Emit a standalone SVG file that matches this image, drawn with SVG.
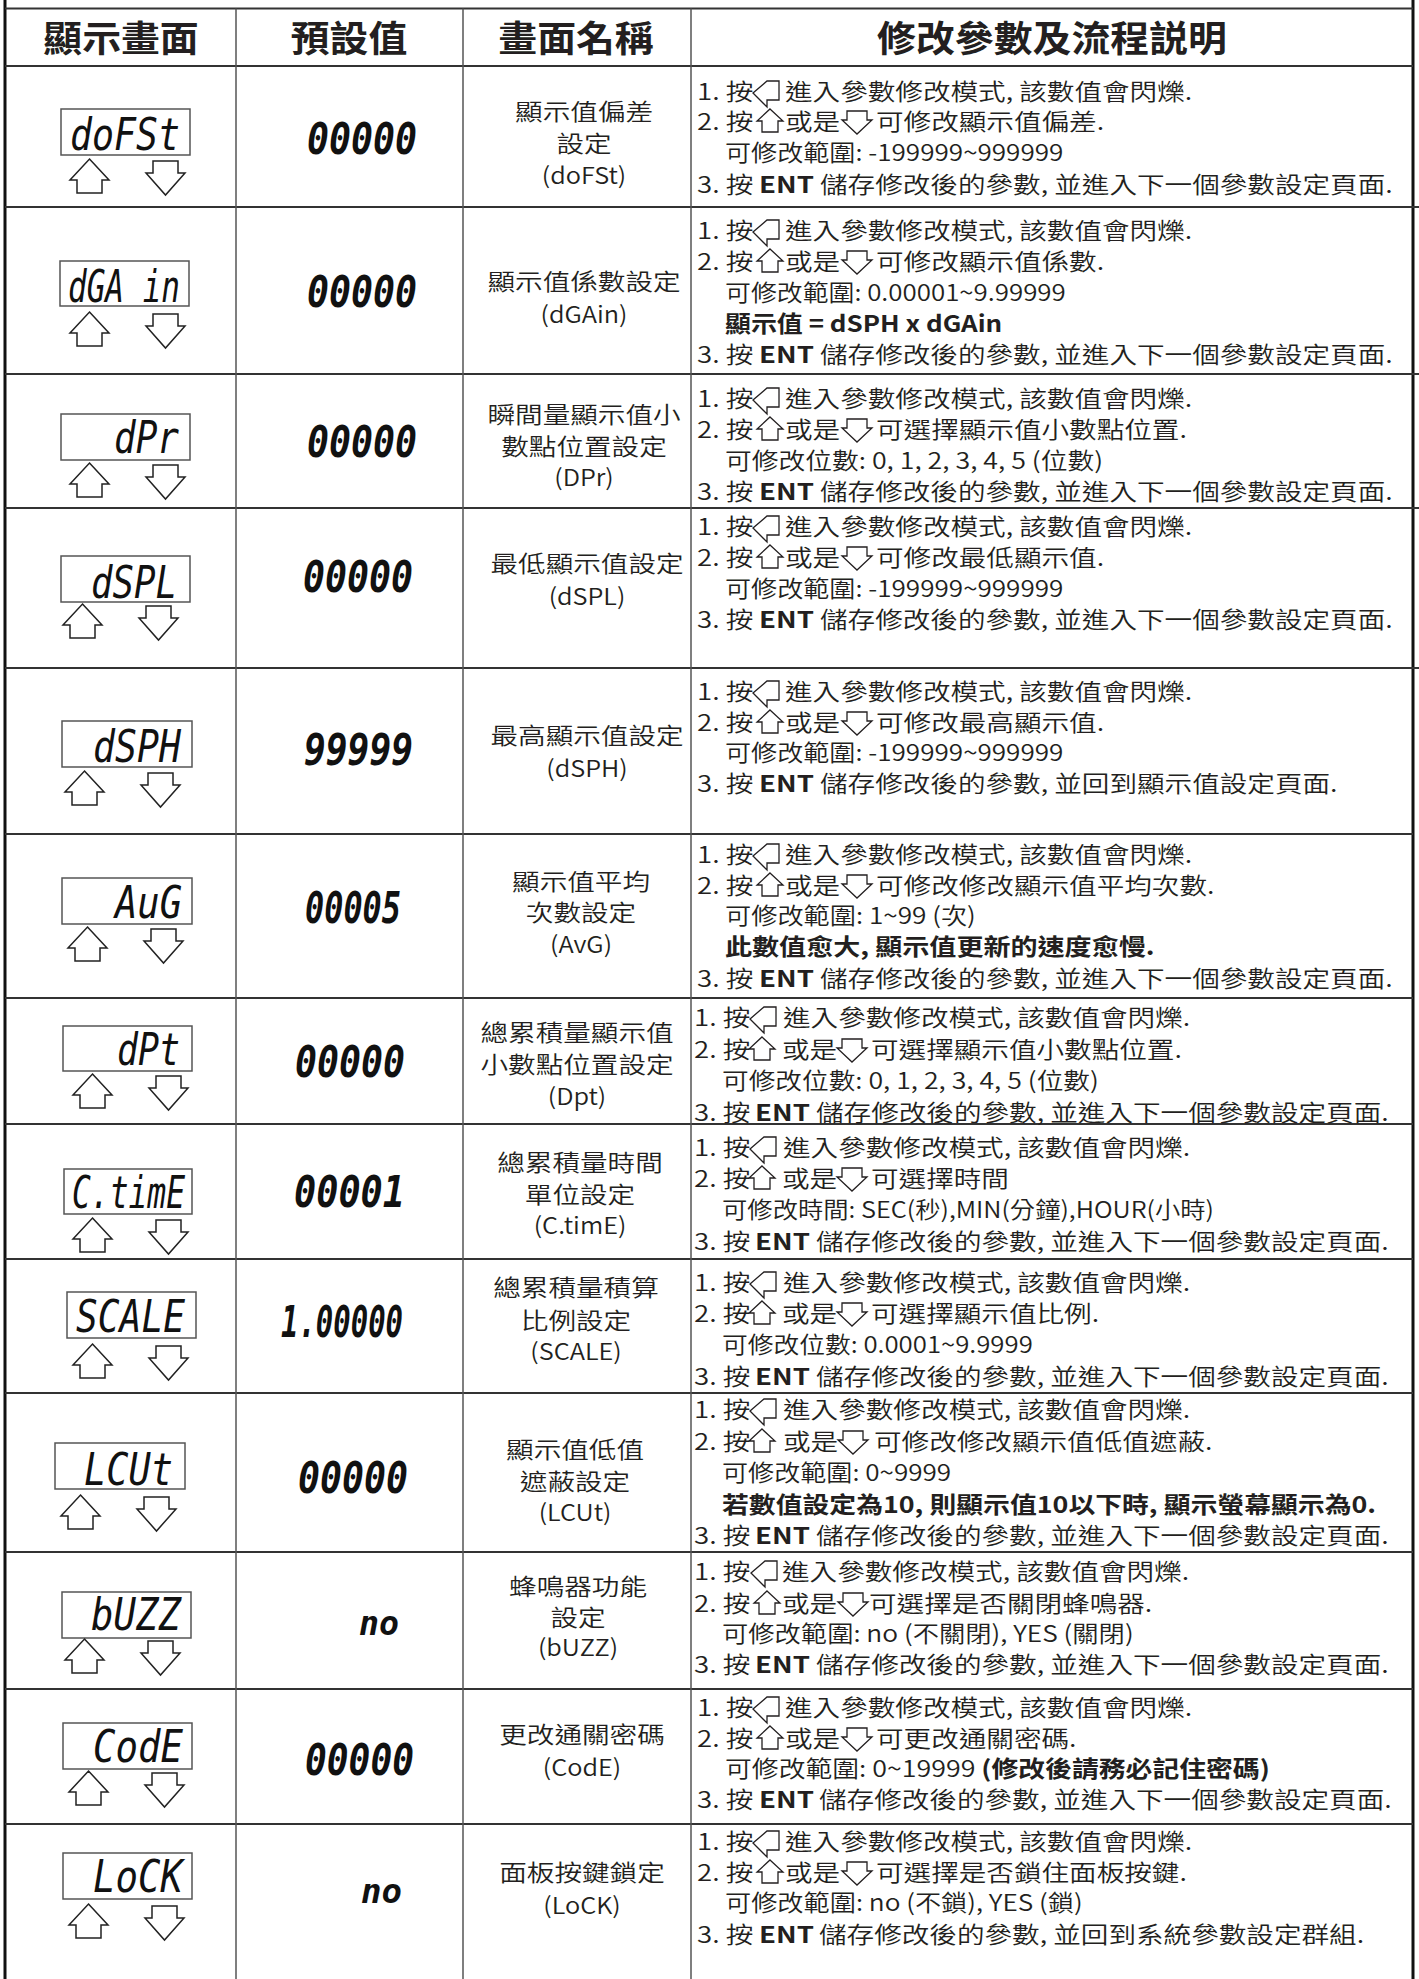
<svg xmlns="http://www.w3.org/2000/svg" xmlns:xlink="http://www.w3.org/1999/xlink" width="1419" height="1979" viewBox="0 0 1419 1979">
<style>
.t{font-family:'Noto Sans CJK TC','Noto Sans CJK SC',sans-serif;font-size:23px;font-weight:350;fill:#231f20}
.b{font-weight:bold}
.m{text-anchor:middle}
.h{font-family:'Noto Sans CJK TC','Noto Sans CJK SC',sans-serif;font-size:36px;font-weight:bold;fill:#231f20;text-anchor:middle}
.seg{font-family:'DejaVu Sans Mono',monospace;font-style:oblique;font-size:45px;fill:#111}
.val{font-family:'DejaVu Sans Mono',monospace;font-style:oblique;font-weight:bold;font-size:44px;fill:#111}
.box{fill:#fff;stroke:#555;stroke-width:1.5}
.arr{fill:#fff;stroke:#222;stroke-width:1.5}
.ia{fill:#fff;stroke:#231f20;stroke-width:1.3}
.rl{stroke:#333;stroke-width:2}
.cl{stroke:#555;stroke-width:1.5}
.ob{stroke:#111;stroke-width:3}
</style>
<defs>
<polygon id="bigUp" class="arr" points="19.5,0 39,21 32,21 32,34 7,34 7,21 0,21"/>
<polygon id="bigDn" class="arr" points="7,0 32,0 32,12 39,12 19.5,34 0,12 7,12"/>
<polygon id="iL" class="ia" points="0,1 14,-11 26,-11 26,8 14,8 14,15"/>
<polygon id="iU" class="ia" points="13,-13 26,-1 21,-1 21,10 5,10 5,-1 0,-1"/>
<polygon id="iD" class="ia" points="5,-11 25,-11 25,-2 30,-2 15,12 0,-2 5,-2"/>
</defs>
<rect width="1419" height="1979" fill="#fff"/>

<g id="grid">
<line class="ob" x1="5" y1="0" x2="5" y2="1979"/>
<line class="ob" x1="1413" y1="0" x2="1413" y2="1979"/>
<line class="rl" x1="5" y1="8.5" x2="1413" y2="8.5"/>
<line class="rl" x1="5" y1="66" x2="1413" y2="66"/>
<line class="rl" x1="5" y1="207" x2="1419" y2="207"/>
<line class="rl" x1="5" y1="374" x2="1419" y2="374"/>
<line class="rl" x1="5" y1="508" x2="1419" y2="508"/>
<line class="rl" x1="5" y1="668" x2="1419" y2="668"/>
<line class="rl" x1="5" y1="834" x2="1413" y2="834"/>
<line class="rl" x1="5" y1="998" x2="1413" y2="998"/>
<line class="rl" x1="5" y1="1124" x2="1413" y2="1124"/>
<line class="rl" x1="5" y1="1259" x2="1413" y2="1259"/>
<line class="rl" x1="5" y1="1393" x2="1413" y2="1393"/>
<line class="rl" x1="5" y1="1552" x2="1413" y2="1552"/>
<line class="rl" x1="5" y1="1689" x2="1413" y2="1689"/>
<line class="rl" x1="5" y1="1824" x2="1413" y2="1824"/>
<line class="cl" x1="236" y1="8.5" x2="236" y2="1979"/>
<line class="cl" x1="463" y1="8.5" x2="463" y2="1979"/>
<line class="cl" x1="691" y1="8.5" x2="691" y2="1979"/>
</g>

<g id="connectors"></g>

<g id="header">
<text class="h" transform="translate(121 52) scale(1.08 1)">顯示畫面</text>
<text class="h" transform="translate(349 52) scale(1.08 1)">預設值</text>
<text class="h" transform="translate(576 52) scale(1.08 1)">畫面名稱</text>
<text class="h" transform="translate(1052 52) scale(1.08 1)">修改參數及流程説明</text>
</g>

<g id="row-doFSt">
<rect class="box" x="61" y="109" width="129" height="46"/>
<text class="seg" x="70" y="150" textLength="110" lengthAdjust="spacingAndGlyphs">doFSt</text>
<use href="#bigUp" x="70" y="159"/><use href="#bigDn" x="146" y="161"/>
<text class="val" x="307" y="154" textLength="110" lengthAdjust="spacingAndGlyphs">00000</text>
<text class="t m" transform="translate(584 120) scale(1.2 1)">顯示值偏差</text>
<text class="t m" transform="translate(584 152) scale(1.2 1)">設定</text>
<text class="t m" transform="translate(584 184) scale(1.1 1)">(doFSt)</text>
<text class="t" transform="translate(697 100) scale(1.2 1)">1. 按</text><use href="#iL" x="753" y="92"/>
<text class="t" transform="translate(785 100) scale(1.2 1)">進入參數修改模式, 該數值會閃爍.</text>
<text class="t" transform="translate(697 130) scale(1.2 1)">2. 按</text><use href="#iU" x="757" y="122"/>
<text class="t" transform="translate(785 130) scale(1.2 1)">或是</text><use href="#iD" x="842" y="122"/>
<text class="t" transform="translate(876 130) scale(1.2 1)">可修改顯示值偏差.</text>
<text class="t" transform="translate(725 161) scale(1.2 1)" textLength="282" lengthAdjust="spacingAndGlyphs">可修改範圍: -199999~999999</text>
<text class="t" transform="translate(697 193) scale(1.2 1)">3. 按</text>
<text class="t b" transform="translate(759 193) scale(1.2 1)">ENT</text>
<text class="t" transform="translate(820 193) scale(1.2 1)">儲存修改後的參數, 並進入下一個參數設定頁面.</text>
</g>

<g id="row-dGAin">
<rect class="box" x="60" y="261" width="129" height="45"/>
<text class="seg" x="68" y="302" textLength="112" lengthAdjust="spacingAndGlyphs">dGA in</text>
<use href="#bigUp" x="70" y="312"/><use href="#bigDn" x="146" y="314"/>
<text class="val" x="307" y="307" textLength="110" lengthAdjust="spacingAndGlyphs">00000</text>
<text class="t m" transform="translate(584 290) scale(1.2 1)">顯示值係數設定</text>
<text class="t m" transform="translate(584 323) scale(1.1 1)">(dGAin)</text>
<text class="t" transform="translate(697 239) scale(1.2 1)">1. 按</text><use href="#iL" x="753" y="231"/>
<text class="t" transform="translate(785 239) scale(1.2 1)">進入參數修改模式, 該數值會閃爍.</text>
<text class="t" transform="translate(697 270) scale(1.2 1)">2. 按</text><use href="#iU" x="757" y="262"/>
<text class="t" transform="translate(785 270) scale(1.2 1)">或是</text><use href="#iD" x="842" y="262"/>
<text class="t" transform="translate(876 270) scale(1.2 1)">可修改顯示值係數.</text>
<text class="t" transform="translate(725 301) scale(1.2 1)" textLength="284" lengthAdjust="spacingAndGlyphs">可修改範圍: 0.00001~9.99999</text>
<text class="t b" transform="translate(725 332) scale(1.2 1)" textLength="231" lengthAdjust="spacingAndGlyphs">顯示值 = dSPH x dGAin</text>
<text class="t" transform="translate(697 363) scale(1.2 1)">3. 按</text>
<text class="t b" transform="translate(759 363) scale(1.2 1)">ENT</text>
<text class="t" transform="translate(820 363) scale(1.2 1)">儲存修改後的參數, 並進入下一個參數設定頁面.</text>
</g>

<g id="row-dPr">
<rect class="box" x="61" y="414" width="129" height="46"/>
<text class="seg" x="114" y="453" textLength="65" lengthAdjust="spacingAndGlyphs">dPr</text>
<use href="#bigUp" x="70" y="463"/><use href="#bigDn" x="146" y="465"/>
<text class="val" x="307" y="457" textLength="110" lengthAdjust="spacingAndGlyphs">00000</text>
<text class="t m" transform="translate(584 423) scale(1.2 1)">瞬間量顯示值小</text>
<text class="t m" transform="translate(584 455) scale(1.2 1)">數點位置設定</text>
<text class="t m" transform="translate(584 486) scale(1.1 1)">(DPr)</text>
<text class="t" transform="translate(697 407) scale(1.2 1)">1. 按</text><use href="#iL" x="753" y="399"/>
<text class="t" transform="translate(785 407) scale(1.2 1)">進入參數修改模式, 該數值會閃爍.</text>
<text class="t" transform="translate(697 438) scale(1.2 1)">2. 按</text><use href="#iU" x="757" y="430"/>
<text class="t" transform="translate(785 438) scale(1.2 1)">或是</text><use href="#iD" x="842" y="430"/>
<text class="t" transform="translate(876 438) scale(1.2 1)">可選擇顯示值小數點位置.</text>
<text class="t" transform="translate(725 469) scale(1.2 1)" textLength="315" lengthAdjust="spacingAndGlyphs">可修改位數: 0, 1, 2, 3, 4, 5 (位數)</text>
<text class="t" transform="translate(697 500) scale(1.2 1)">3. 按</text>
<text class="t b" transform="translate(759 500) scale(1.2 1)">ENT</text>
<text class="t" transform="translate(820 500) scale(1.2 1)">儲存修改後的參數, 並進入下一個參數設定頁面.</text>
</g>

<g id="row-dSPL">
<rect class="box" x="61" y="556" width="129" height="46"/>
<text class="seg" x="91" y="598" textLength="86" lengthAdjust="spacingAndGlyphs">dSPL</text>
<use href="#bigUp" x="63" y="604"/><use href="#bigDn" x="139" y="606"/>
<text class="val" x="303" y="592" textLength="110" lengthAdjust="spacingAndGlyphs">00000</text>
<text class="t m" transform="translate(587 572) scale(1.2 1)">最低顯示值設定</text>
<text class="t m" transform="translate(587 605) scale(1.1 1)">(dSPL)</text>
<text class="t" transform="translate(697 535) scale(1.2 1)">1. 按</text><use href="#iL" x="753" y="527"/>
<text class="t" transform="translate(785 535) scale(1.2 1)">進入參數修改模式, 該數值會閃爍.</text>
<text class="t" transform="translate(697 566) scale(1.2 1)">2. 按</text><use href="#iU" x="757" y="558"/>
<text class="t" transform="translate(785 566) scale(1.2 1)">或是</text><use href="#iD" x="842" y="558"/>
<text class="t" transform="translate(876 566) scale(1.2 1)">可修改最低顯示值.</text>
<text class="t" transform="translate(725 597) scale(1.2 1)" textLength="282" lengthAdjust="spacingAndGlyphs">可修改範圍: -199999~999999</text>
<text class="t" transform="translate(697 628) scale(1.2 1)">3. 按</text>
<text class="t b" transform="translate(759 628) scale(1.2 1)">ENT</text>
<text class="t" transform="translate(820 628) scale(1.2 1)">儲存修改後的參數, 並進入下一個參數設定頁面.</text>
</g>

<g id="row-dSPH">
<rect class="box" x="62" y="721" width="130" height="46"/>
<text class="seg" x="93" y="762" textLength="88" lengthAdjust="spacingAndGlyphs">dSPH</text>
<use href="#bigUp" x="65" y="771"/><use href="#bigDn" x="141" y="773"/>
<text class="val" x="304" y="765" textLength="109" lengthAdjust="spacingAndGlyphs">99999</text>
<text class="t m" transform="translate(587 744) scale(1.2 1)">最高顯示值設定</text>
<text class="t m" transform="translate(587 777) scale(1.1 1)">(dSPH)</text>
<text class="t" transform="translate(697 700) scale(1.2 1)">1. 按</text><use href="#iL" x="753" y="692"/>
<text class="t" transform="translate(785 700) scale(1.2 1)">進入參數修改模式, 該數值會閃爍.</text>
<text class="t" transform="translate(697 731) scale(1.2 1)">2. 按</text><use href="#iU" x="757" y="723"/>
<text class="t" transform="translate(785 731) scale(1.2 1)">或是</text><use href="#iD" x="842" y="723"/>
<text class="t" transform="translate(876 731) scale(1.2 1)">可修改最高顯示值.</text>
<text class="t" transform="translate(725 761) scale(1.2 1)" textLength="282" lengthAdjust="spacingAndGlyphs">可修改範圍: -199999~999999</text>
<text class="t" transform="translate(697 792) scale(1.2 1)">3. 按</text>
<text class="t b" transform="translate(759 792) scale(1.2 1)">ENT</text>
<text class="t" transform="translate(820 792) scale(1.2 1)">儲存修改後的參數, 並回到顯示值設定頁面.</text>
</g>

<g id="row-AvG">
<rect class="box" x="62" y="878" width="130" height="46"/>
<text class="seg" x="115" y="918" textLength="67" lengthAdjust="spacingAndGlyphs">AuG</text>
<use href="#bigUp" x="68" y="927"/><use href="#bigDn" x="144" y="929"/>
<text class="val" x="305" y="923" textLength="96" lengthAdjust="spacingAndGlyphs">00005</text>
<text class="t m" transform="translate(581 890) scale(1.2 1)">顯示值平均</text>
<text class="t m" transform="translate(581 921) scale(1.2 1)">次數設定</text>
<text class="t m" transform="translate(581 953) scale(1.1 1)">(AvG)</text>
<text class="t" transform="translate(697 863) scale(1.2 1)">1. 按</text><use href="#iL" x="753" y="855"/>
<text class="t" transform="translate(785 863) scale(1.2 1)">進入參數修改模式, 該數值會閃爍.</text>
<text class="t" transform="translate(697 894) scale(1.2 1)">2. 按</text><use href="#iU" x="757" y="886"/>
<text class="t" transform="translate(785 894) scale(1.2 1)">或是</text><use href="#iD" x="842" y="886"/>
<text class="t" transform="translate(876 894) scale(1.2 1)">可修改修改顯示值平均次數.</text>
<text class="t" transform="translate(725 924) scale(1.2 1)" textLength="209" lengthAdjust="spacingAndGlyphs">可修改範圍: 1~99 (次)</text>
<text class="t b" transform="translate(725 955) scale(1.2 1)" textLength="358" lengthAdjust="spacingAndGlyphs">此數值愈大, 顯示值更新的速度愈慢.</text>
<text class="t" transform="translate(697 987) scale(1.2 1)">3. 按</text>
<text class="t b" transform="translate(759 987) scale(1.2 1)">ENT</text>
<text class="t" transform="translate(820 987) scale(1.2 1)">儲存修改後的參數, 並進入下一個參數設定頁面.</text>
</g>

<g id="row-Dpt">
<rect class="box" x="63" y="1026" width="129" height="45"/>
<text class="seg" x="117" y="1065" textLength="63" lengthAdjust="spacingAndGlyphs">dPt</text>
<use href="#bigUp" x="73" y="1074"/><use href="#bigDn" x="149" y="1076"/>
<text class="val" x="295" y="1077" textLength="110" lengthAdjust="spacingAndGlyphs">00000</text>
<text class="t m" transform="translate(577 1041) scale(1.2 1)">總累積量顯示值</text>
<text class="t m" transform="translate(577 1073) scale(1.2 1)">小數點位置設定</text>
<text class="t m" transform="translate(577 1105) scale(1.1 1)">(Dpt)</text>
<text class="t" transform="translate(694 1026) scale(1.2 1)">1. 按</text><use href="#iL" x="750" y="1018"/>
<text class="t" transform="translate(783 1026) scale(1.2 1)">進入參數修改模式, 該數值會閃爍.</text>
<text class="t" transform="translate(694 1058) scale(1.2 1)">2. 按</text><use href="#iU" x="749" y="1050"/>
<text class="t" transform="translate(782 1058) scale(1.2 1)">或是</text><use href="#iD" x="837" y="1050"/>
<text class="t" transform="translate(871 1058) scale(1.2 1)">可選擇顯示值小數點位置.</text>
<text class="t" transform="translate(722 1089) scale(1.2 1)" textLength="314" lengthAdjust="spacingAndGlyphs">可修改位數: 0, 1, 2, 3, 4, 5 (位數)</text>
<text class="t" transform="translate(694 1121) scale(1.2 1)">3. 按</text>
<text class="t b" transform="translate(755 1121) scale(1.2 1)">ENT</text>
<text class="t" transform="translate(816 1121) scale(1.2 1)">儲存修改後的參數, 並進入下一個參數設定頁面.</text>
</g>

<g id="row-CtimE">
<rect class="box" x="64" y="1169" width="128" height="45"/>
<text class="seg" x="72" y="1208" textLength="113" lengthAdjust="spacingAndGlyphs">C.timE</text>
<use href="#bigUp" x="73" y="1218"/><use href="#bigDn" x="149" y="1220"/>
<text class="val" x="294" y="1207" textLength="111" lengthAdjust="spacingAndGlyphs">00001</text>
<text class="t m" transform="translate(580 1171) scale(1.2 1)">總累積量時間</text>
<text class="t m" transform="translate(580 1203) scale(1.2 1)">單位設定</text>
<text class="t m" transform="translate(580 1234) scale(1.1 1)">(C.timE)</text>
<text class="t" transform="translate(694 1156) scale(1.2 1)">1. 按</text><use href="#iL" x="750" y="1148"/>
<text class="t" transform="translate(783 1156) scale(1.2 1)">進入參數修改模式, 該數值會閃爍.</text>
<text class="t" transform="translate(694 1187) scale(1.2 1)">2. 按</text><use href="#iU" x="749" y="1179"/>
<text class="t" transform="translate(782 1187) scale(1.2 1)">或是</text><use href="#iD" x="837" y="1179"/>
<text class="t" transform="translate(871 1187) scale(1.2 1)">可選擇時間</text>
<text class="t" transform="translate(722 1218) scale(1.2 1)" textLength="410" lengthAdjust="spacingAndGlyphs">可修改時間: SEC(秒),MIN(分鐘),HOUR(小時)</text>
<text class="t" transform="translate(694 1250) scale(1.2 1)">3. 按</text>
<text class="t b" transform="translate(755 1250) scale(1.2 1)">ENT</text>
<text class="t" transform="translate(816 1250) scale(1.2 1)">儲存修改後的參數, 並進入下一個參數設定頁面.</text>
</g>

<g id="row-SCALE">
<rect class="box" x="67" y="1292" width="129" height="46"/>
<text class="seg" x="76" y="1332" textLength="109" lengthAdjust="spacingAndGlyphs">SCALE</text>
<use href="#bigUp" x="73" y="1344"/><use href="#bigDn" x="149" y="1346"/>
<text class="val" x="281" y="1337" textLength="122" lengthAdjust="spacingAndGlyphs">1.00000</text>
<text class="t m" transform="translate(576 1296) scale(1.2 1)">總累積量積算</text>
<text class="t m" transform="translate(576 1329) scale(1.2 1)">比例設定</text>
<text class="t m" transform="translate(576 1360) scale(1.1 1)">(SCALE)</text>
<text class="t" transform="translate(694 1291) scale(1.2 1)">1. 按</text><use href="#iL" x="750" y="1283"/>
<text class="t" transform="translate(783 1291) scale(1.2 1)">進入參數修改模式, 該數值會閃爍.</text>
<text class="t" transform="translate(694 1322) scale(1.2 1)">2. 按</text><use href="#iU" x="749" y="1314"/>
<text class="t" transform="translate(782 1322) scale(1.2 1)">或是</text><use href="#iD" x="837" y="1314"/>
<text class="t" transform="translate(871 1322) scale(1.2 1)">可選擇顯示值比例.</text>
<text class="t" transform="translate(722 1353) scale(1.2 1)" textLength="259" lengthAdjust="spacingAndGlyphs">可修改位數: 0.0001~9.9999</text>
<text class="t" transform="translate(694 1385) scale(1.2 1)">3. 按</text>
<text class="t b" transform="translate(755 1385) scale(1.2 1)">ENT</text>
<text class="t" transform="translate(816 1385) scale(1.2 1)">儲存修改後的參數, 並進入下一個參數設定頁面.</text>
</g>

<g id="row-LCUt">
<rect class="box" x="55" y="1443" width="130" height="46"/>
<text class="seg" x="84" y="1485" textLength="89" lengthAdjust="spacingAndGlyphs">LCUt</text>
<use href="#bigUp" x="61" y="1495"/><use href="#bigDn" x="137" y="1497"/>
<text class="val" x="298" y="1493" textLength="110" lengthAdjust="spacingAndGlyphs">00000</text>
<text class="t m" transform="translate(575 1458) scale(1.2 1)">顯示值低值</text>
<text class="t m" transform="translate(575 1490) scale(1.2 1)">遮蔽設定</text>
<text class="t m" transform="translate(575 1521) scale(1.1 1)">(LCUt)</text>
<text class="t" transform="translate(694 1418) scale(1.2 1)">1. 按</text><use href="#iL" x="750" y="1410"/>
<text class="t" transform="translate(783 1418) scale(1.2 1)">進入參數修改模式, 該數值會閃爍.</text>
<text class="t" transform="translate(694 1450) scale(1.2 1)">2. 按</text><use href="#iU" x="749" y="1442"/>
<text class="t" transform="translate(783 1450) scale(1.2 1)">或是</text><use href="#iD" x="838" y="1442"/>
<text class="t" transform="translate(874 1450) scale(1.2 1)">可修改修改顯示值低值遮蔽.</text>
<text class="t" transform="translate(722 1481) scale(1.2 1)" textLength="191" lengthAdjust="spacingAndGlyphs">可修改範圍: 0~9999</text>
<text class="t b" transform="translate(722 1513) scale(1.2 1)" textLength="545" lengthAdjust="spacingAndGlyphs">若數值設定為10, 則顯示值10以下時, 顯示螢幕顯示為0.</text>
<text class="t" transform="translate(694 1544) scale(1.2 1)">3. 按</text>
<text class="t b" transform="translate(755 1544) scale(1.2 1)">ENT</text>
<text class="t" transform="translate(816 1544) scale(1.2 1)">儲存修改後的參數, 並進入下一個參數設定頁面.</text>
</g>

<g id="row-bUZZ">
<rect class="box" x="62" y="1592" width="129" height="46"/>
<text class="seg" x="91" y="1630" textLength="90" lengthAdjust="spacingAndGlyphs">bUZZ</text>
<use href="#bigUp" x="65" y="1639"/><use href="#bigDn" x="141" y="1641"/>
<text class="val" x="359" y="1635" style="font-size:34px" textLength="40" lengthAdjust="spacingAndGlyphs">no</text>
<text class="t m" transform="translate(578 1595) scale(1.2 1)">蜂鳴器功能</text>
<text class="t m" transform="translate(578 1626) scale(1.2 1)">設定</text>
<text class="t m" transform="translate(578 1656) scale(1.1 1)">(bUZZ)</text>
<text class="t" transform="translate(694 1580) scale(1.2 1)">1. 按</text><use href="#iL" x="751" y="1572"/>
<text class="t" transform="translate(782 1580) scale(1.2 1)">進入參數修改模式, 該數值會閃爍.</text>
<text class="t" transform="translate(694 1612) scale(1.2 1)">2. 按</text><use href="#iU" x="754" y="1604"/>
<text class="t" transform="translate(782 1612) scale(1.2 1)">或是</text><use href="#iD" x="838" y="1604"/>
<text class="t" transform="translate(869 1612) scale(1.2 1)">可選擇是否關閉蜂鳴器.</text>
<text class="t" transform="translate(722 1642) scale(1.2 1)" textLength="343" lengthAdjust="spacingAndGlyphs">可修改範圍: no (不關閉), YES (關閉)</text>
<text class="t" transform="translate(694 1673) scale(1.2 1)">3. 按</text>
<text class="t b" transform="translate(755 1673) scale(1.2 1)">ENT</text>
<text class="t" transform="translate(816 1673) scale(1.2 1)">儲存修改後的參數, 並進入下一個參數設定頁面.</text>
</g>

<g id="row-CodE">
<rect class="box" x="63" y="1723" width="129" height="46"/>
<text class="seg" x="93" y="1762" textLength="90" lengthAdjust="spacingAndGlyphs">CodE</text>
<use href="#bigUp" x="69" y="1771"/><use href="#bigDn" x="145" y="1773"/>
<text class="val" x="305" y="1775" textLength="109" lengthAdjust="spacingAndGlyphs">00000</text>
<text class="t m" transform="translate(582 1743) scale(1.2 1)">更改通關密碼</text>
<text class="t m" transform="translate(582 1776) scale(1.1 1)">(CodE)</text>
<text class="t" transform="translate(697 1716) scale(1.2 1)">1. 按</text><use href="#iL" x="753" y="1708"/>
<text class="t" transform="translate(785 1716) scale(1.2 1)">進入參數修改模式, 該數值會閃爍.</text>
<text class="t" transform="translate(697 1747) scale(1.2 1)">2. 按</text><use href="#iU" x="757" y="1739"/>
<text class="t" transform="translate(785 1747) scale(1.2 1)">或是</text><use href="#iD" x="842" y="1739"/>
<text class="t" transform="translate(876 1747) scale(1.2 1)">可更改通關密碼.</text>
<text class="t" transform="translate(725 1777) scale(1.2 1)" textLength="454" lengthAdjust="spacingAndGlyphs">可修改範圍: 0~19999 <tspan class="b">(修改後請務必記住密碼)</tspan></text>
<text class="t" transform="translate(697 1808) scale(1.2 1)">3. 按</text>
<text class="t b" transform="translate(759 1808) scale(1.2 1)">ENT</text>
<text class="t" transform="translate(819 1808) scale(1.2 1)">儲存修改後的參數, 並進入下一個參數設定頁面.</text>
</g>

<g id="row-LoCK">
<rect class="box" x="63" y="1853" width="129" height="46"/>
<text class="seg" x="93" y="1892" textLength="90" lengthAdjust="spacingAndGlyphs">LoCK</text>
<use href="#bigUp" x="69" y="1904"/><use href="#bigDn" x="145" y="1906"/>
<text class="val" x="361" y="1903" style="font-size:34px" textLength="41" lengthAdjust="spacingAndGlyphs">no</text>
<text class="t m" transform="translate(582 1881) scale(1.2 1)">面板按鍵鎖定</text>
<text class="t m" transform="translate(582 1914) scale(1.1 1)">(LoCK)</text>
<text class="t" transform="translate(697 1850) scale(1.2 1)">1. 按</text><use href="#iL" x="753" y="1842"/>
<text class="t" transform="translate(785 1850) scale(1.2 1)">進入參數修改模式, 該數值會閃爍.</text>
<text class="t" transform="translate(697 1881) scale(1.2 1)">2. 按</text><use href="#iU" x="757" y="1873"/>
<text class="t" transform="translate(785 1881) scale(1.2 1)">或是</text><use href="#iD" x="842" y="1873"/>
<text class="t" transform="translate(876 1881) scale(1.2 1)">可選擇是否鎖住面板按鍵.</text>
<text class="t" transform="translate(725 1911) scale(1.2 1)" textLength="298" lengthAdjust="spacingAndGlyphs">可修改範圍: no (不鎖), YES (鎖)</text>
<text class="t" transform="translate(697 1943) scale(1.2 1)">3. 按</text>
<text class="t b" transform="translate(759 1943) scale(1.2 1)">ENT</text>
<text class="t" transform="translate(819 1943) scale(1.2 1)">儲存修改後的參數, 並回到系統參數設定群組.</text>
</g>
</svg>
